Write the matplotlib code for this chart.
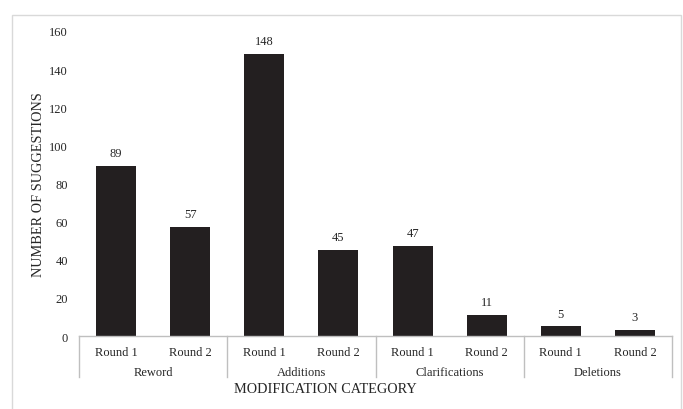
import matplotlib
matplotlib.use("Agg")
import matplotlib.pyplot as plt
from matplotlib.patches import Rectangle

plt.rcParams['font.family'] = ['Liberation Serif', 'DejaVu Serif']

# data
groups = ["Reword", "Additions", "Clarifications", "Deletions"]
rounds = ["Round 1", "Round 2"]
counts = [89, 57, 148, 45, 47, 11, 5, 3]
yticks = [0, 20, 40, 60, 80, 100, 120, 140, 160]

bar_color = "#231f20"
axis_gray = "#bfbfbf"
text_color = "#262626"

fig = plt.figure(figsize=(6.83, 4.10), dpi=100)
ax = fig.add_axes([0.1157, 0.178, 0.8682, 0.744])

# light frame round the chart area
fig.patches.append(Rectangle((12 / 683, -0.1), 669 / 683, 1.1 - 16 / 410,
                             transform=fig.transFigure, fill=False,
                             edgecolor="#d9d9d9", linewidth=1.0))

x = list(range(len(counts)))
bars = ax.bar(x, counts, width=0.54, color=bar_color)

for xi, v in zip(x, counts):
    ax.annotate(str(v), (xi, v), xytext=(0, 5), textcoords="offset points",
                ha="center", va="bottom", fontsize=9, color=text_color)

ax.set_xlim(-0.5, len(counts) - 0.5)
ax.set_ylim(0, 160)
ax.set_yticks(yticks)
ax.tick_params(axis="y", length=0, labelsize=9, colors=text_color, pad=8)
ax.set_xticks(x)
ax.set_xticklabels([rounds[i % 2] for i in x], fontsize=9, color=text_color)
ax.tick_params(axis="x", length=0, pad=7)

for s in ["top", "right", "left"]:
    ax.spines[s].set_visible(False)
ax.spines["bottom"].set_color(axis_gray)
ax.spines["bottom"].set_linewidth(1.0)

# group labels and separators under the round labels
trans = ax.get_xaxis_transform()
for gi, g in enumerate(groups):
    ax.text(gi * 2 + 0.5, -0.118, g, transform=trans, ha="center", va="center",
            fontsize=9, color=text_color)
for sep in [-0.5, 1.5, 3.5, 5.5, 7.5]:
    ax.plot([sep, sep], [0, -0.134], transform=trans, color=axis_gray,
            linewidth=1.0, clip_on=False)

ax.set_xlabel("MODIFICATION CATEGORY", fontsize=10.3, color=text_color)
ax.xaxis.set_label_coords(0.415, -0.152)
ax.set_ylabel("NUMBER OF SUGGESTIONS", fontsize=10.3, color=text_color)
ax.yaxis.set_label_coords(-0.057, 0.5)

fig.savefig("out.png", dpi=100)
